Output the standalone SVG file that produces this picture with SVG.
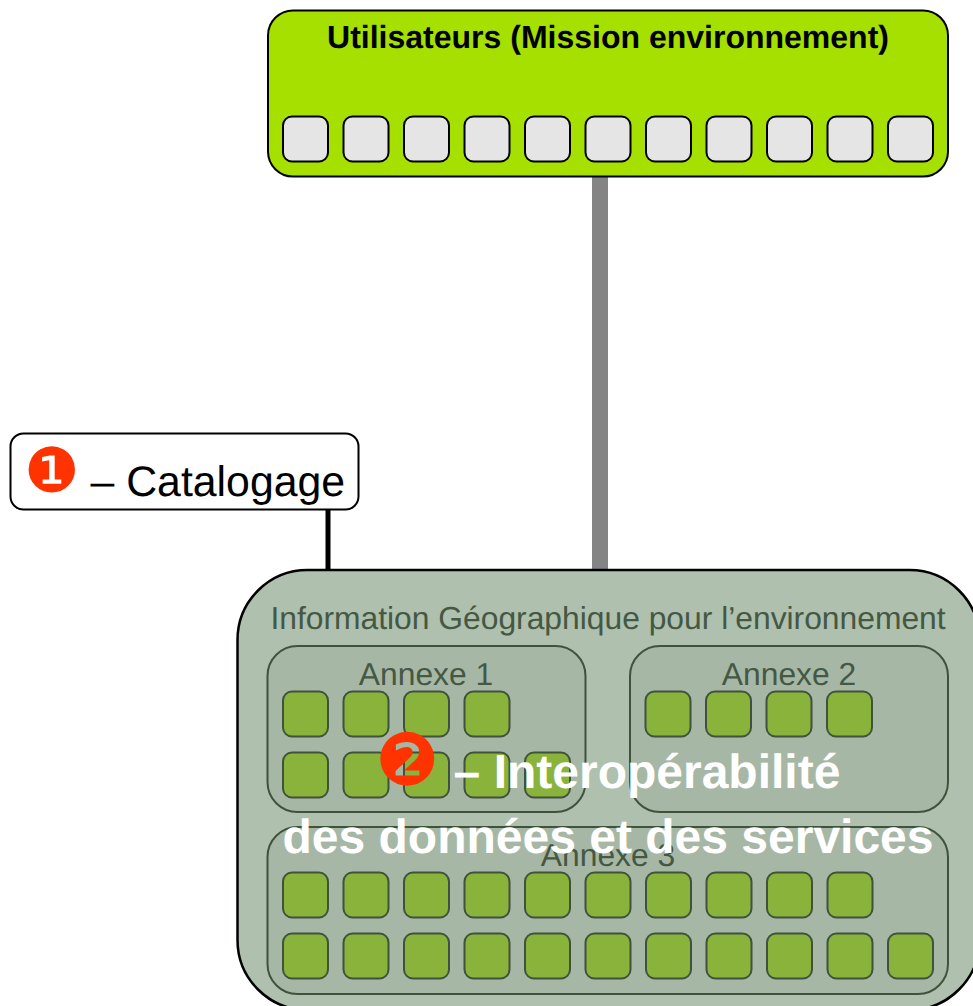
<svg xmlns="http://www.w3.org/2000/svg" width="973" height="1006" viewBox="0 0 973 1006">
<defs>
<style>
text{font-family:"Liberation Sans",Arial,sans-serif;text-rendering:geometricPrecision}
.g{fill:#e5e5e5;stroke:#000;stroke-width:2}
.s{fill:#8ab33c;stroke:#3f533c;stroke-width:2}
.a{fill:#a7b7a6;stroke:#3f533c;stroke-width:2}
.l{fill:#445843;font-size:31.800px;text-anchor:middle}
.w{fill:#fff;font-size:48px;font-weight:bold;text-anchor:middle}
.n{fill:#ff3300;font-family:"DejaVu Serif",serif}
</style>
<rect id="gs" width="45" height="45" rx="9" class="g"/>
<rect id="ss" width="45" height="45" rx="9" class="s"/>
</defs>
<g id="connectors">
<rect x="592" y="177" width="16" height="393" fill="#848484"/>
<line x1="328" y1="510" x2="328" y2="570" stroke="#000" stroke-width="5"/>
</g>
<g id="users">
<rect x="268" y="10.500" width="680" height="166" rx="25" fill="#a5e000" stroke="#000" stroke-width="2"/>
<text x="608" y="48" font-size="32" font-weight="bold" text-anchor="middle">Utilisateurs (Mission environnement)</text>
<use href="#gs" x="283" y="116.500"/><use href="#gs" x="343.500" y="116.500"/><use href="#gs" x="404" y="116.500"/><use href="#gs" x="464.500" y="116.500"/><use href="#gs" x="525" y="116.500"/><use href="#gs" x="585.500" y="116.500"/><use href="#gs" x="646" y="116.500"/><use href="#gs" x="706.500" y="116.500"/><use href="#gs" x="767" y="116.500"/><use href="#gs" x="827.500" y="116.500"/><use href="#gs" x="888" y="116.500"/>
</g>
<g id="catalogage">
<rect x="10.500" y="433.500" width="348" height="76" rx="13" fill="#fff" stroke="#000" stroke-width="2"/>
<text x="24" y="492" font-size="62" class="n">❶</text>
<text x="90.500" y="496" font-size="42.800">– Catalogage</text>
</g>
<g id="information">
<rect x="237.500" y="570" width="742" height="440" rx="70" fill="#afc0ae" stroke="#000" stroke-width="2.500"/>
<text x="608" y="629" class="l">Information Géographique pour l’environnement</text>
</g>
<g id="annexe1">
<rect x="267.500" y="646" width="318" height="166" rx="30" class="a"/>
<text x="426" y="685" class="l">Annexe 1</text>
<use href="#ss" x="283" y="691.500"/><use href="#ss" x="343.500" y="691.500"/><use href="#ss" x="404" y="691.500"/><use href="#ss" x="464.500" y="691.500"/>
<use href="#ss" x="283" y="752.500"/><use href="#ss" x="343.500" y="752.500"/><use href="#ss" x="404" y="752.500"/><use href="#ss" x="464.500" y="752.500"/><use href="#ss" x="525" y="752.500"/>
</g>
<g id="annexe2">
<rect x="630" y="646" width="318" height="166" rx="30" class="a"/>
<text x="789" y="685" class="l">Annexe 2</text>
<use href="#ss" x="645.500" y="691.500"/><use href="#ss" x="706" y="691.500"/><use href="#ss" x="766.500" y="691.500"/><use href="#ss" x="827" y="691.500"/>
</g>
<g id="annexe3">
<rect x="267.500" y="827" width="680.500" height="167" rx="30" class="a"/>
<text x="608" y="866" class="l">Annexe 3</text>
<use href="#ss" x="283" y="872.500"/><use href="#ss" x="343.500" y="872.500"/><use href="#ss" x="404" y="872.500"/><use href="#ss" x="464.500" y="872.500"/><use href="#ss" x="525" y="872.500"/><use href="#ss" x="585.500" y="872.500"/><use href="#ss" x="646" y="872.500"/><use href="#ss" x="706.500" y="872.500"/><use href="#ss" x="767" y="872.500"/><use href="#ss" x="827.500" y="872.500"/>
<use href="#ss" x="283" y="933.500"/><use href="#ss" x="343.500" y="933.500"/><use href="#ss" x="404" y="933.500"/><use href="#ss" x="464.500" y="933.500"/><use href="#ss" x="525" y="933.500"/><use href="#ss" x="585.500" y="933.500"/><use href="#ss" x="646" y="933.500"/><use href="#ss" x="706.500" y="933.500"/><use href="#ss" x="767" y="933.500"/><use href="#ss" x="827.500" y="933.500"/><use href="#ss" x="888" y="933.500"/>
</g>
<g id="interoperabilite">
<text x="375" y="785" font-size="72" class="n">❷</text>
<text x="647" y="788" class="w">– Interopérabilité</text>
<text x="608" y="853" class="w">des données et des services</text>
</g>
</svg>
